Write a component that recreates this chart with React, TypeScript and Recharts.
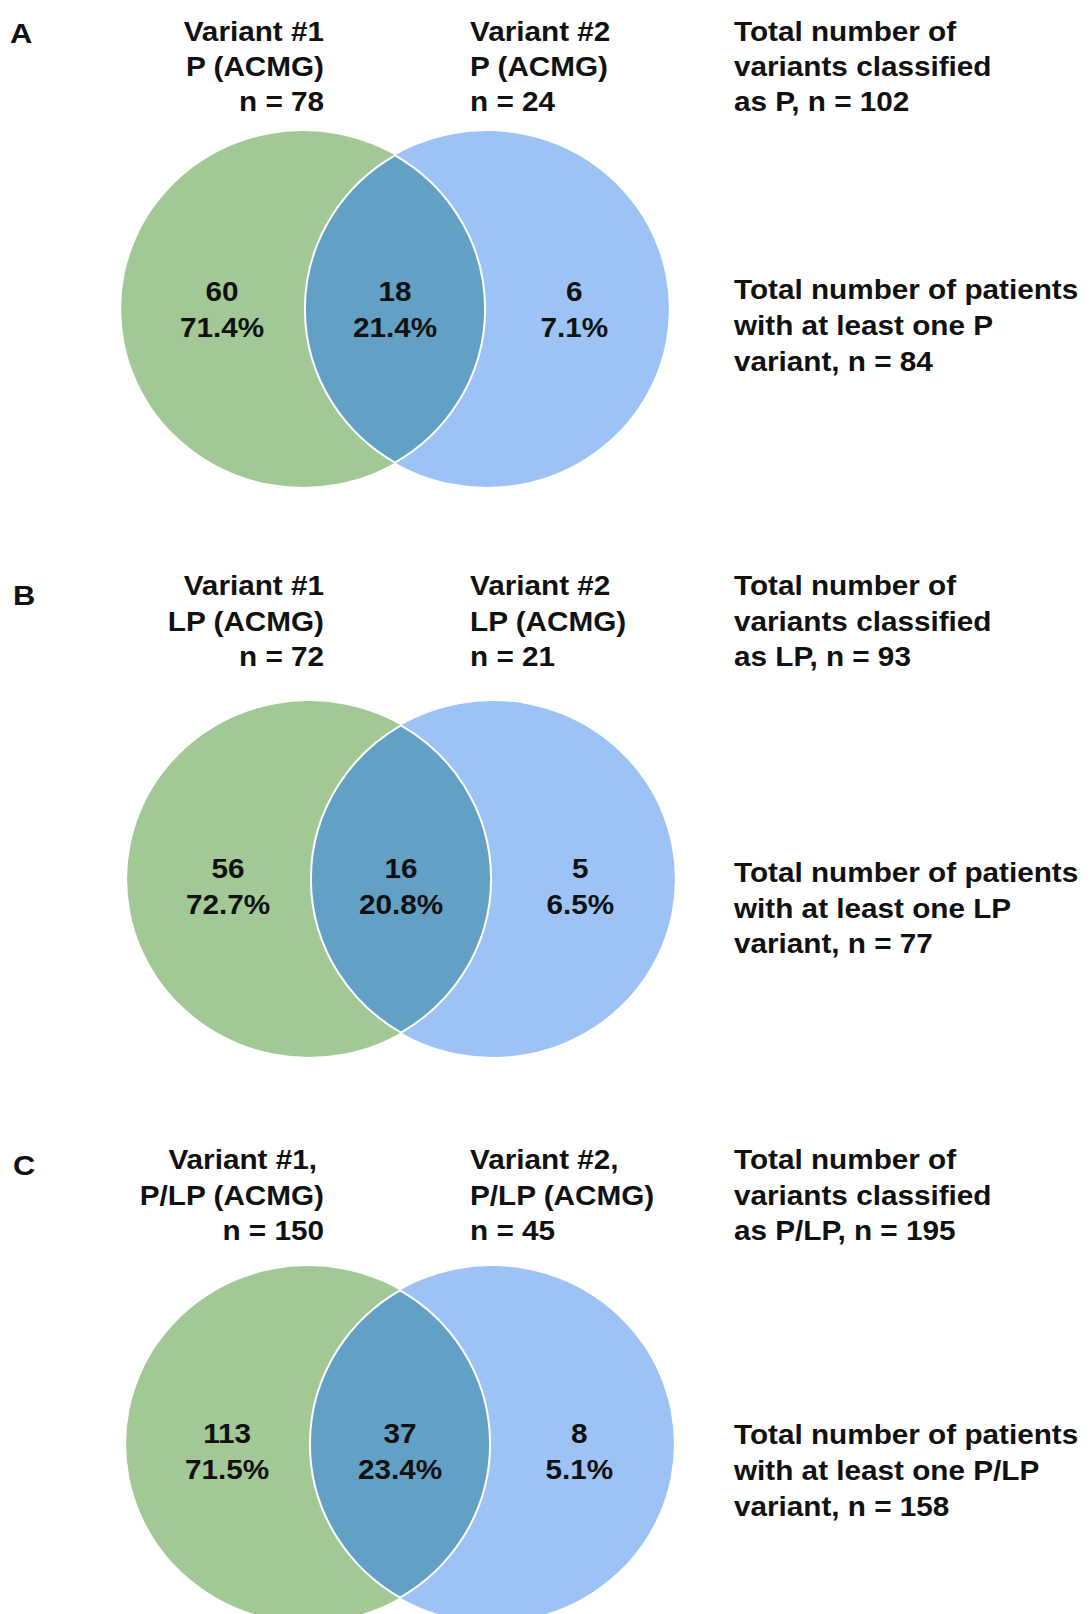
import { ScatterChart, Scatter, XAxis, YAxis } from 'recharts';

// ---- data ----
const PANEL_LETTERS = ['A', 'B', 'C'];
const CLASSES = ['P', 'LP', 'P/LP'];
const SET1_TITLES = ['Variant #1', 'Variant #1', 'Variant #1,'];
const SET2_TITLES = ['Variant #2', 'Variant #2', 'Variant #2,'];
const SET1_N = [78, 72, 150];
const SET2_N = [24, 21, 45];
const ONLY1 = [60, 56, 113];
const BOTH = [18, 16, 37];
const ONLY2 = [6, 5, 8];
const ONLY1_PCT = [71.4, 72.7, 71.5];
const BOTH_PCT = [21.4, 20.8, 23.4];
const ONLY2_PCT = [7.1, 6.5, 5.1];
const TOTAL_VARIANTS = [102, 93, 195];
const TOTAL_PATIENTS = [84, 77, 158];

// ---- layout ----
const W = 1075;
const PX = 182; // px per venn unit (x)
const PY = 178; // px per venn unit (y)
const HALF_D = 0.505; // half distance between circle centres, in radii
const LABEL_X = [-0.95, 0, 0.985];
const GREEN = '#a2c995';
const BLUE = '#9dc3f6';
const OVERLAP = '#62a1c5';
const INK = '#111111';
const FONT = "'Liberation Sans', Arial, Helvetica, sans-serif";
const FS = 27;
const STRETCH = 1.1;

const LAYOUT = [
  { h: 550, midX: 387, cy: 301, labelDy: -8, head: [33, 68, 103], low: [291, 327, 363], letterX: 2, letterY: 35 },
  { h: 570, midX: 393, cy: 321, labelDy: -1, head: [37, 73, 108], low: [324, 360, 395], letterX: 5, letterY: 47 },
  { h: 486, midX: 392, cy: 316, labelDy: -1, head: [41, 77, 112], low: [316, 352, 388], letterX: 5, letterY: 47 },
];

function T({ x, y, anchor = 'start', size = FS, children }: any) {
  return (
    <text
      transform={`translate(${x} ${y}) scale(${STRETCH} 1)`}
      textAnchor={anchor}
      fontFamily={FONT}
      fontWeight="bold"
      fontSize={size}
      fill={INK}
    >
      {children}
    </text>
  );
}

const SetShape = (props: any) => {
  const { cx, cy, payload } = props;
  return <ellipse cx={cx} cy={cy} rx={PX} ry={PY} fill={payload.fill} />;
};

const LensShape = (props: any) => {
  const { cx, cy } = props;
  const h = PY * Math.sqrt(1 - HALF_D * HALF_D);
  const d = `M${cx},${cy - h} A${PX},${PY} 0 0 1 ${cx},${cy + h} A${PX},${PY} 0 0 1 ${cx},${cy - h} Z`;
  return <path d={d} fill={OVERLAP} stroke="#ffffff" strokeWidth={2} />;
};

const RegionLabel = (props: any) => {
  const { cx, cy, payload } = props;
  return (
    <g>
      <T x={cx} y={cy + payload.dy} anchor="middle">{payload.count}</T>
      <T x={cx} y={cy + payload.dy + 36} anchor="middle">{payload.pct.toFixed(1)}%</T>
    </g>
  );
};

function Panel({ i }: { i: number }) {
  const L = LAYOUT[i];
  const xMin = -L.midX / PX;
  const xMax = (W - L.midX) / PX;
  const yMax = L.cy / PY;
  const yMin = -(L.h - L.cy) / PY;

  const sets = [
    { x: -HALF_D, y: 0, fill: GREEN },
    { x: HALF_D, y: 0, fill: BLUE },
  ];
  const overlap = [{ x: 0, y: 0 }];
  const regions = [
    { x: LABEL_X[0], y: 0, count: ONLY1[i], pct: ONLY1_PCT[i], dy: L.labelDy },
    { x: LABEL_X[1], y: 0, count: BOTH[i], pct: BOTH_PCT[i], dy: L.labelDy },
    { x: LABEL_X[2], y: 0, count: ONLY2[i], pct: ONLY2_PCT[i], dy: L.labelDy },
  ];

  const set1Lines = [SET1_TITLES[i], `${CLASSES[i]} (ACMG)`, `n = ${SET1_N[i]}`];
  const set2Lines = [SET2_TITLES[i], `${CLASSES[i]} (ACMG)`, `n = ${SET2_N[i]}`];
  const varLines = ['Total number of', 'variants classified', `as ${CLASSES[i]}, n = ${TOTAL_VARIANTS[i]}`];
  const patLines = ['Total number of patients', `with at least one ${CLASSES[i]}`, `variant, n = ${TOTAL_PATIENTS[i]}`];

  return (
    <div style={{ position: 'relative', width: W, height: L.h }}>
      <ScatterChart width={W} height={L.h} margin={{ top: 0, right: 0, bottom: 0, left: 0 }}>
        <XAxis type="number" dataKey="x" domain={[xMin, xMax]} hide allowDataOverflow />
        <YAxis type="number" dataKey="y" domain={[yMin, yMax]} hide allowDataOverflow />
        <Scatter data={sets} shape={SetShape} isAnimationActive={false} />
        <Scatter data={overlap} shape={LensShape} isAnimationActive={false} />
        <Scatter data={regions} shape={RegionLabel} isAnimationActive={false} />
      </ScatterChart>
      <svg width={W} height={L.h} style={{ position: 'absolute', left: 0, top: 0, pointerEvents: 'none' }}>
        <T x={L.letterX} y={L.letterY} size={28}>{PANEL_LETTERS[i]}</T>
        {set1Lines.map((s, k) => (
          <T key={'a' + k} x={s.endsWith(',') ? 309 : 316} y={L.head[k]} anchor="end">{s}</T>
        ))}
        {set2Lines.map((s, k) => (
          <T key={'b' + k} x={462} y={L.head[k]}>{s}</T>
        ))}
        {varLines.map((s, k) => (
          <T key={'c' + k} x={726} y={L.head[k]}>{s}</T>
        ))}
        {patLines.map((s, k) => (
          <T key={'d' + k} x={726} y={L.low[k]}>{s}</T>
        ))}
      </svg>
    </div>
  );
}

export default function App() {
  return (
    <div style={{ width: W }}>
      {PANEL_LETTERS.map((_, i) => (
        <Panel key={i} i={i} />
      ))}
    </div>
  );
}
